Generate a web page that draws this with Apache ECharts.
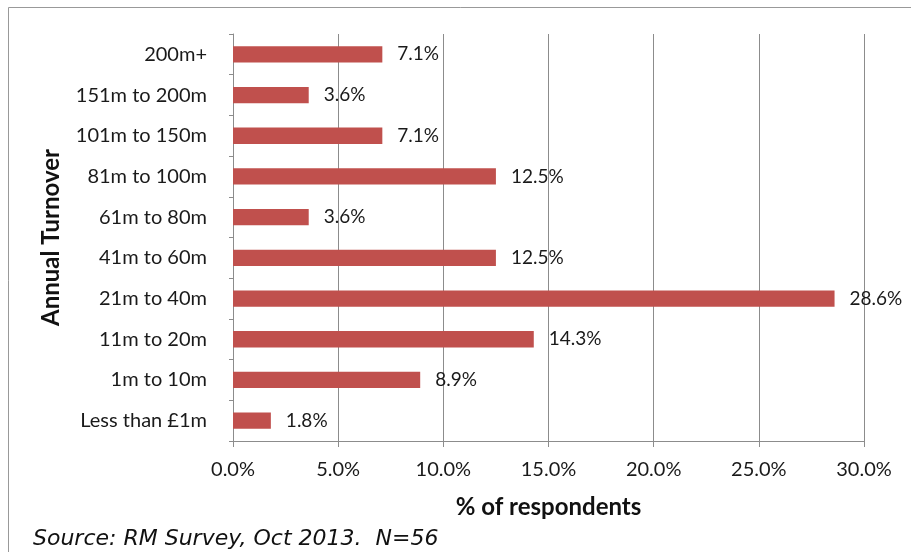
<!DOCTYPE html>
<html>
<head>
<meta charset="utf-8">
<script src="https://cdn.jsdelivr.net/npm/echarts@6/dist/echarts.min.js"></script>
<style>
  html, body { margin: 0; padding: 0; background: #fff; }
  #chart { width: 911px; height: 552px; }
</style>
</head>
<body>
<div id="chart"></div>
<script>
// Turnover bands, listed top to bottom
const categories = [
  '200m+', '151m to 200m', '101m to 150m', '81m to 100m', '61m to 80m',
  '41m to 60m', '21m to 40m', '11m to 20m', '1m to 10m', 'Less than £1m'
];
// Share of respondents in each band (%)
const shares = [7.1, 3.6, 7.1, 12.5, 3.6, 12.5, 28.6, 14.3, 8.9, 1.8];
// Percentage axis ticks
const xTicks = [0, 5, 10, 15, 20, 25, 30];

const FONT = 'Lato, "Open Sans", sans-serif';
const GRID_COLOR = '#8c8c8c';
const TEXT_COLOR = '#1a1a1a';

const chart = echarts.init(document.getElementById('chart'), null, { renderer: 'canvas' });

chart.setOption({
  backgroundColor: '#fff',
  animation: false,
  textStyle: { fontFamily: FONT },
  grid: { left: 233, right: 47, top: 34, bottom: 111, containLabel: false },
  xAxis: {
    type: 'value',
    min: xTicks[0],
    max: xTicks[xTicks.length - 1],
    interval: xTicks[1] - xTicks[0],
    name: '% of respondents',
    nameLocation: 'middle',
    nameGap: 54,
    nameTextStyle: { fontFamily: FONT, fontSize: 24, fontWeight: 'bold', color: '#111' },
    axisLine: { show: true, lineStyle: { color: GRID_COLOR, width: 1 } },
    axisTick: { show: true, length: 6, inside: false, lineStyle: { color: GRID_COLOR } },
    axisLabel: {
      margin: 19,
      fontSize: 20,
      color: TEXT_COLOR,
      formatter: v => v.toFixed(1) + '%'
    },
    splitLine: { show: true, lineStyle: { color: GRID_COLOR, width: 1 } }
  },
  yAxis: {
    type: 'category',
    data: categories,
    inverse: true,
    name: 'Annual Turnover',
    nameLocation: 'middle',
    nameRotate: 90,
    nameGap: 170,
    nameTextStyle: { fontFamily: FONT, fontSize: 24, fontWeight: 'bold', color: '#111' },
    axisLine: { show: true, lineStyle: { color: GRID_COLOR, width: 1 } },
    axisTick: { show: true, length: 4, inside: false, lineStyle: { color: GRID_COLOR } },
    axisLabel: { margin: 26, fontSize: 20, color: TEXT_COLOR },
    splitLine: { show: false }
  },
  series: [{
    type: 'bar',
    data: shares,
    barCategoryGap: '60%',
    itemStyle: { color: '#C0504D' },
    label: {
      show: true,
      position: 'right',
      distance: 15,
      fontSize: 19,
      color: TEXT_COLOR,
      formatter: p => p.value.toFixed(1) + '%'
    }
  }],
  graphic: [
    {
      type: 'rect',
      shape: { x: 8.5, y: 7.5, width: 1000, height: 600 },
      style: { fill: null, stroke: '#999', lineWidth: 1 },
      silent: true
    },
    {
      type: 'text',
      x: 33,
      y: 539,
      style: {
        text: 'Source: RM Survey, Oct 2013.  N=56',
        fontFamily: '"DejaVu Sans", Verdana, sans-serif',
        fontSize: 22,
        fontStyle: 'italic',
        verticalAlign: 'middle',
        fill: '#111'
      }
    }
  ]
});
</script>
</body>
</html>
